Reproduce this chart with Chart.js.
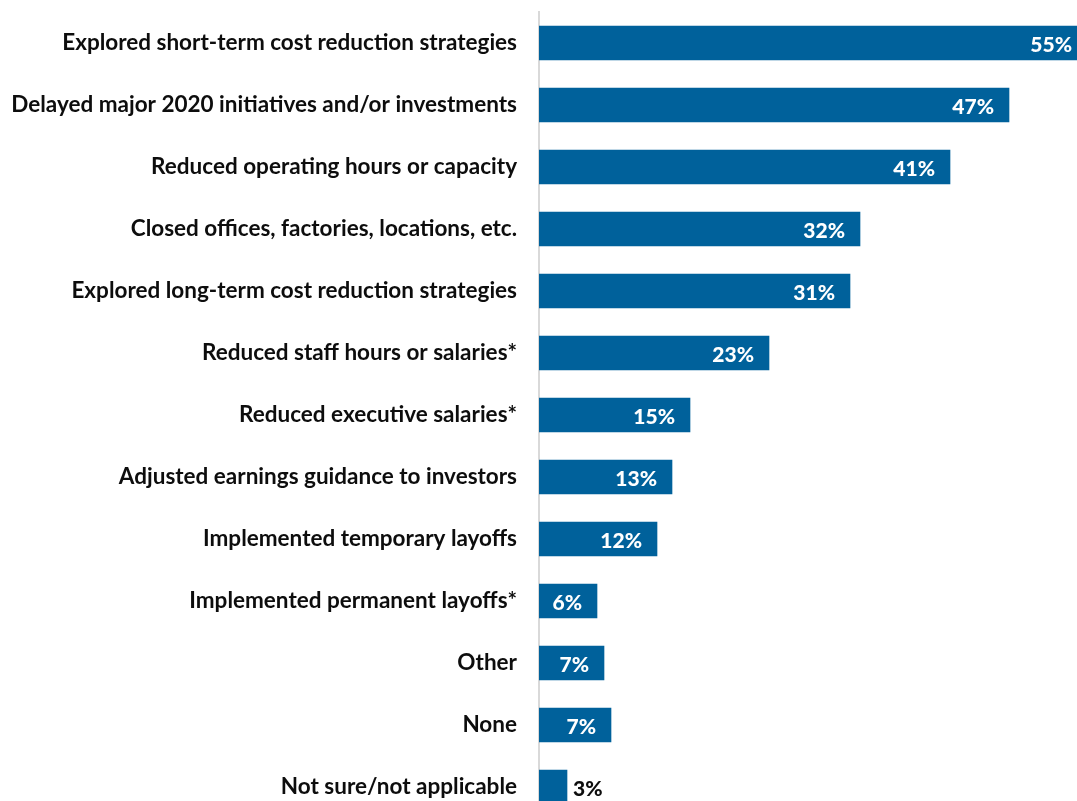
<!DOCTYPE html>
<html>
<head>
<meta charset="utf-8">
<script src="https://cdn.jsdelivr.net/npm/chart.js@4"></script>
<style>
  html, body { margin: 0; padding: 0; background: #fff; overflow: hidden; }
  #wrap { width: 1077px; height: 830px; }
</style>
</head>
<body>
<div id="wrap"><canvas id="bar_chart" width="1077" height="830"></canvas></div>
<script>
const categories = [
  "Explored short-term cost reduction strategies",
  "Delayed major 2020 initiatives and/or investments",
  "Reduced operating hours or capacity",
  "Closed offices, factories, locations, etc.",
  "Explored long-term cost reduction strategies",
  "Reduced staff hours or salaries*",
  "Reduced executive salaries*",
  "Adjusted earnings guidance to investors",
  "Implemented temporary layoffs",
  "Implemented permanent layoffs*",
  "Other",
  "None",
  "Not sure/not applicable"
];
const values = [54.8, 47.0, 41.1, 32.1, 31.1, 23.0, 15.1, 13.3, 11.8, 5.8, 6.5, 7.2, 2.8];
const valueLabels = ["55%", "47%", "41%", "32%", "31%", "23%", "15%", "13%", "12%", "6%", "7%", "7%", "3%"];

const FONT = "Lato, 'Liberation Sans', sans-serif";

// bar-end labels, white inside the bar, dark outside for tiny bars
const barLabels = {
  id: "barLabels",
  afterDatasetsDraw(chart) {
    const ctx = chart.ctx;
    const meta = chart.getDatasetMeta(0);
    ctx.save();
    ctx.font = "900 21px " + FONT;
    ctx.textBaseline = "middle";
    meta.data.forEach((bar, i) => {
      if (values[i] < 4) {
        ctx.fillStyle = "#0d0d0d";
        ctx.textAlign = "left";
        ctx.fillText(valueLabels[i], bar.x + 6, bar.y + 2);
      } else {
        ctx.fillStyle = "#ffffff";
        ctx.textAlign = "right";
        ctx.fillText(valueLabels[i], bar.x - 15, bar.y + 2);
      }
    });
    ctx.restore();
  }
};

const config = {
  type: "bar",
  data: {
    labels: categories,
    datasets: [{
      data: values,
      backgroundColor: "#00619b",
      barThickness: 34
    }]
  },
  options: {
    indexAxis: "y",
    responsive: false,
    animation: false,
    layout: { padding: { top: 12, bottom: 12, left: 0, right: 0 } },
    plugins: {
      legend: { display: false },
      tooltip: { enabled: false }
    },
    scales: {
      x: {
        display: false,
        min: 0,
        max: 53.8
      },
      y: {
        afterFit(scale) {
          scale.width = 539;
          scale.paddingTop = 0;
          scale.paddingBottom = 0;
        },
        grid: { display: false, drawTicks: false },
        border: { display: true, color: "#d9d9d9", width: 2 },
        ticks: {
          padding: 22,
          color: "#0d0d0d",
          font: { family: FONT, size: 22.5, weight: "bold" }
        }
      }
    }
  },
  plugins: [barLabels]
};

const bar_chart = new Chart(document.getElementById("bar_chart"), config);
</script>
</body>
</html>
